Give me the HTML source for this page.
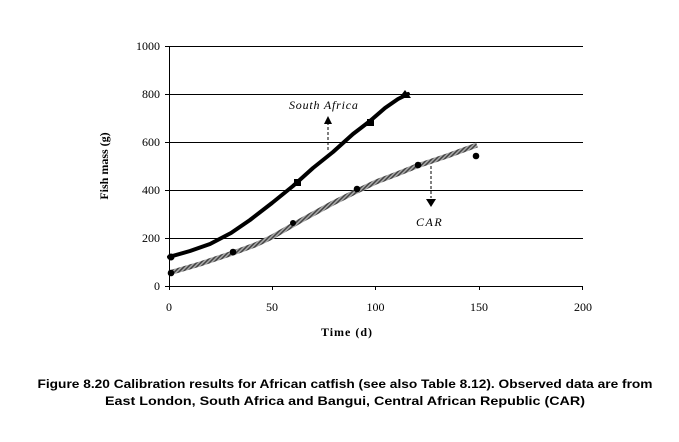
<!DOCTYPE html>
<html><head><meta charset="utf-8"><style>
html,body{margin:0;padding:0;background:#fff;width:679px;height:442px;overflow:hidden}
</style></head><body>
<svg width="679" height="442" viewBox="0 0 679 442" xmlns="http://www.w3.org/2000/svg">
<defs>
<pattern id="h" width="3" height="3" patternUnits="userSpaceOnUse" patternTransform="rotate(45)">
<rect width="3" height="3" fill="#aaa"/><rect width="1.5" height="3" fill="#444"/>
</pattern>
</defs>
<g stroke="#000" stroke-width="1">
<line x1="169" y1="46.5" x2="583" y2="46.5"/>
<line x1="169" y1="94.5" x2="583" y2="94.5"/>
<line x1="169" y1="142.5" x2="583" y2="142.5"/>
<line x1="169" y1="190.5" x2="583" y2="190.5"/>
<line x1="169" y1="238.5" x2="583" y2="238.5"/>
<line x1="169" y1="286.5" x2="583" y2="286.5"/>
<line x1="169.5" y1="46" x2="169.5" y2="286"/>
<line x1="165" y1="46.5" x2="169" y2="46.5"/><line x1="165" y1="94.5" x2="169" y2="94.5"/>
<line x1="165" y1="142.5" x2="169" y2="142.5"/><line x1="165" y1="190.5" x2="169" y2="190.5"/>
<line x1="165" y1="238.5" x2="169" y2="238.5"/><line x1="165" y1="286.5" x2="169" y2="286.5"/>
<line x1="169.5" y1="286" x2="169.5" y2="290"/><line x1="272.5" y1="286" x2="272.5" y2="290"/>
<line x1="375.5" y1="286" x2="375.5" y2="290"/><line x1="479.5" y1="286" x2="479.5" y2="290"/>
<line x1="582.5" y1="286" x2="582.5" y2="290"/>
</g>
<g font-family="Liberation Serif, serif" font-size="12" text-anchor="end">
<text x="160" y="50">1000</text><text x="160" y="98">800</text><text x="160" y="146">600</text>
<text x="160" y="194">400</text><text x="160" y="242">200</text><text x="160" y="290">0</text>
</g>
<g font-family="Liberation Serif, serif" font-size="12" text-anchor="middle">
<text x="169" y="311">0</text><text x="272" y="311">50</text><text x="375.5" y="311">100</text>
<text x="479" y="311">150</text><text x="583" y="311">200</text>
</g>
<text x="347" y="336" font-family="Liberation Serif, serif" font-size="12" font-weight="bold" text-anchor="middle" letter-spacing="1">Time (d)</text>
<text transform="translate(108,166) rotate(-90)" font-family="Liberation Serif, serif" font-size="12" font-weight="bold" text-anchor="middle">Fish mass (g)</text>
<polyline points="169,273 200,264 233,253 255,245 272,237 300,221 333,203 355,192 376,182 397,174 417,166 447,156 477,145" fill="none" stroke="url(#h)" stroke-width="5" stroke-linejoin="round"/>
<polyline points="169,257 190,251 210,244 231,233 250,220 272,203 293,186 313,168 333,152 353,134 370,121 385,108 398,99 408,94" fill="none" stroke="#000" stroke-width="4" stroke-linejoin="round" stroke-linecap="round"/>
<circle cx="171" cy="257" r="3.5"/>
<rect x="294" y="179" width="7" height="7"/>
<rect x="367" y="119" width="7" height="7"/>
<polygon points="405,90 411,98 399,98"/>
<circle cx="171" cy="273" r="3.3"/><circle cx="233" cy="252" r="3.3"/><circle cx="293" cy="223" r="3"/>
<circle cx="357" cy="189" r="3.3"/><circle cx="418" cy="165" r="3.3"/><circle cx="476" cy="156" r="3.3"/>
<text x="289" y="109" font-family="Liberation Serif, serif" font-size="12" font-style="italic" letter-spacing="0.8">South Africa</text>
<line x1="328" y1="150" x2="328" y2="122" stroke="#000" stroke-dasharray="3,2"/>
<polygon points="328,116 324,124 332,124"/>
<line x1="431" y1="166" x2="431" y2="198" stroke="#000" stroke-dasharray="3,2"/>
<polygon points="426,199 436,199 431,207"/>
<text x="416" y="226" font-family="Liberation Serif, serif" font-size="12" font-style="italic" letter-spacing="1.5">CAR</text>
<g font-family="Liberation Sans, sans-serif" font-size="12" font-weight="bold" text-anchor="middle">
<text x="345" y="388" textLength="615" lengthAdjust="spacingAndGlyphs">Figure 8.20 Calibration results for African catfish (see also Table 8.12). Observed data are from</text>
<text x="345" y="405" textLength="480" lengthAdjust="spacingAndGlyphs">East London, South Africa and Bangui, Central African Republic (CAR)</text>
</g>
</svg>
</body></html>
